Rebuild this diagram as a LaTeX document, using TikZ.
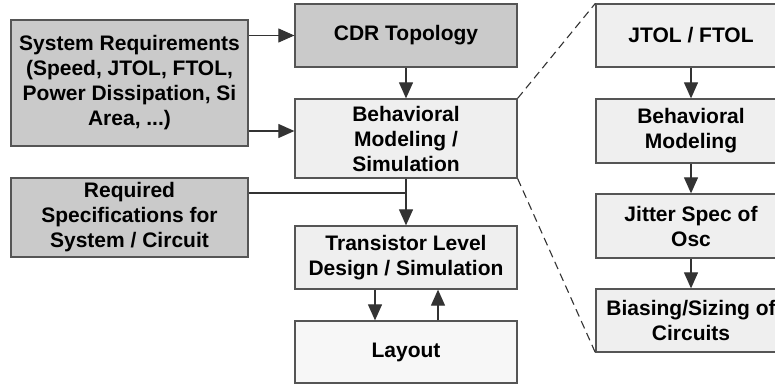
\documentclass[tikz,border=0pt]{standalone}
\usepackage{fontspec}
\setmainfont{Liberation Sans}
\usetikzlibrary{arrows.meta}
\definecolor{darkfill}{HTML}{CACACA}
\definecolor{lightfill}{HTML}{EFEFEF}
\definecolor{paleFill}{HTML}{F7F7F7}
\definecolor{edgecol}{HTML}{555555}
\tikzset{
  box/.style={draw=edgecol, line width=1.3pt, align=center, inner sep=2pt,
    font=\bfseries\fontsize{21}{25}\selectfont, text=black},
  dbox/.style={box, fill=darkfill},
  lbox/.style={box, fill=lightfill},
  pbox/.style={box, fill=paleFill},
  arr/.style={draw=black!80, line width=1.1pt, -{Triangle[length=16pt,width=14pt]}},
  plain/.style={draw=black!80, line width=1.1pt},
  dashline/.style={draw=black!80, line width=1.1pt, dash pattern=on 8pt off 5pt}
}
\begin{document}
\begin{tikzpicture}[x=1pt,y=-1pt]
\useasboundingbox (0,0) rectangle (775,388);
\clip (0,0) rectangle (775,388);
\fill[white] (0,0) rectangle (775,388);
\node[dbox, minimum width=237pt, minimum height=126pt] (sys) at (129.5,83)
  {System Requirements\\(Speed, JTOL, FTOL,\\Power Dissipation, Si\\Area, ...)};
\node[dbox, minimum width=222pt, minimum height=63pt] (cdr) at (406,35.5) {CDR Topology};
\node[lbox, minimum width=222pt, minimum height=79pt] (beh) at (406,138.5) {Behavioral\\Modeling /\\Simulation};
\node[dbox, minimum width=237pt, minimum height=79pt] (req) at (129.5,217.5) {Required\\Specifications for\\System / Circuit};
\node[lbox, minimum width=222pt, minimum height=63pt] (tra) at (406,257.5) {Transistor Level\\Design / Simulation};
\node[pbox, minimum width=222pt, minimum height=62pt] (lay) at (406,352) {Layout};
\node[lbox, minimum width=190pt, minimum height=63pt] (jt) at (691,35.5) {JTOL / FTOL};
\node[lbox, minimum width=190pt, minimum height=64pt] (bm) at (691,131) {Behavioral\\Modeling};
\node[lbox, minimum width=190pt, minimum height=64pt] (js) at (691,226) {Jitter Spec of\\Osc};
\node[lbox, minimum width=190pt, minimum height=63pt] (bs) at (691,320.5) {Biasing/Sizing of\\Circuits};

\draw[arr] (sys.east |- cdr.west) -- (cdr.west);
\draw[arr] (sys.east |- 0,131) -- (beh.west |- 0,131);
\draw[arr] (cdr.south) -- (beh.north);
\draw[arr] (beh.south) -- (tra.north);
\draw[plain] (req.east |- 0,193) -- (beh.south |- 0,193);
\draw[arr] ([xshift=-31pt]tra.south) -- ([xshift=-31pt]lay.north);
\draw[arr] ([xshift=32pt]lay.north) -- ([xshift=32pt]tra.south);
\draw[arr] (jt.south) -- (bm.north);
\draw[arr] (bm.south) -- (js.north);
\draw[arr] (js.south) -- (bs.north);
\draw[dashline] (beh.north east) -- (jt.north west);
\draw[dashline] (beh.south east) -- (bs.south west);
\end{tikzpicture}
\end{document}
